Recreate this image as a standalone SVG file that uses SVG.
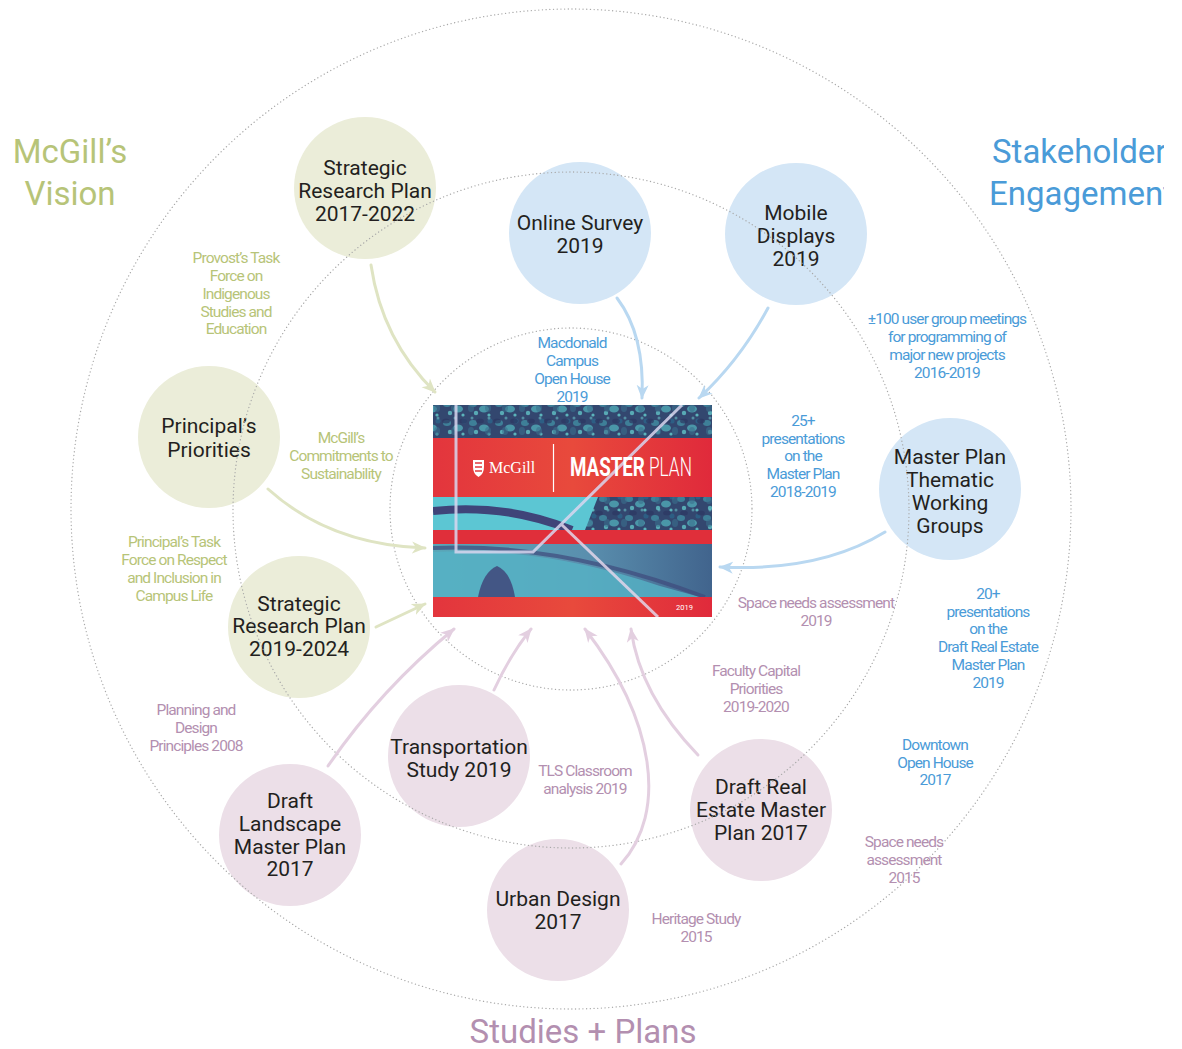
<svg xmlns="http://www.w3.org/2000/svg" width="1182" height="1049" viewBox="0 0 1182 1049">
<style>
.ring{fill:none;stroke:#a9a9a9;stroke-width:1.3;stroke-dasharray:0.1 3.6;stroke-linecap:round}
.ng circle{stroke:none}
.g circle{fill:#ebedd9}
.b circle{fill:#d4e6f6}
.p circle{fill:#ecdfe8}
.nt{font-family:Roboto,"Liberation Sans",sans-serif;font-size:21px;fill:#231f20;text-anchor:middle}
.lb{font-family:Roboto,"Liberation Sans",sans-serif;font-size:15.5px;font-weight:400;letter-spacing:-0.9px;text-anchor:middle}
.ttl{font-family:Roboto,"Liberation Sans",sans-serif;font-size:33px;font-weight:400}
.gt{fill:#b7c478}
.bt{fill:#4a9bd8}
.pt{fill:#b38fb0}
.ca{fill:none;stroke-width:3;stroke-linecap:round}
.cg{stroke:#dfe4c3;marker-end:url(#ag)}
.cb{stroke:#b9d8f1;marker-end:url(#ab)}
.cp{stroke:#e3cfe0;marker-end:url(#ap)}
.cov{font-family:Roboto,"Liberation Sans",sans-serif;fill:#ffffff}
</style>
<defs>
<marker id="ag" markerUnits="userSpaceOnUse" markerWidth="16" markerHeight="14" refX="13" refY="7" orient="auto"><path d="M0,1 L14,7 L0,13 L4,7 z" fill="#dfe4c3"/></marker>
<marker id="ab" markerUnits="userSpaceOnUse" markerWidth="16" markerHeight="14" refX="13" refY="7" orient="auto"><path d="M0,1 L14,7 L0,13 L4,7 z" fill="#b9d8f1"/></marker>
<marker id="ap" markerUnits="userSpaceOnUse" markerWidth="16" markerHeight="14" refX="13" refY="7" orient="auto"><path d="M0,1 L14,7 L0,13 L4,7 z" fill="#e3cfe0"/></marker>
<pattern id="fol" patternUnits="userSpaceOnUse" width="26" height="19">
<rect width="26" height="19" fill="#33476f"/>
<ellipse cx="5" cy="5" rx="4" ry="3" fill="#3e7f98"/>
<ellipse cx="16" cy="10" rx="5" ry="3.5" fill="#4a96a8"/>
<circle cx="8" cy="14" r="2.2" fill="#58aab5"/>
<circle cx="22" cy="3" r="2.5" fill="#2d5e84"/>
<circle cx="21" cy="16" r="1.6" fill="#5bb4bb"/>
</pattern>
<pattern id="fol2" patternUnits="userSpaceOnUse" width="17" height="23">
<ellipse cx="4" cy="7" rx="4" ry="2.5" fill="#2c3763" opacity="0.7"/>
<ellipse cx="12" cy="17" rx="3" ry="4" fill="#3a6f8e" opacity="0.6"/>
<circle cx="13" cy="4" r="1.5" fill="#69c0c6" opacity="0.6"/>
</pattern>
<linearGradient id="red" x1="0" y1="0" x2="1" y2="0">
<stop offset="0" stop-color="#e3353d"/>
<stop offset="0.5" stop-color="#e84a3c"/>
<stop offset="1" stop-color="#e02a3b"/>
</linearGradient>
<linearGradient id="low" x1="0" y1="0" x2="1" y2="0">
<stop offset="0" stop-color="#5aa7b8"/>
<stop offset="0.55" stop-color="#5a8fae"/>
<stop offset="1" stop-color="#41648d"/>
</linearGradient>
<clipPath id="cc"><rect x="433" y="405" width="279" height="212"/></clipPath>
<clipPath id="edge"><rect x="0" y="0" width="1164" height="1049"/></clipPath>
</defs>
<rect width="1182" height="1049" fill="#ffffff"/>

<g id="nodes">
<g id="n-srp2017" class="ng g"><circle cx="365" cy="188" r="71"/>
<text class="nt"><tspan x="365" y="175">Strategic</tspan><tspan x="365" y="198">Research Plan</tspan><tspan x="365" y="221">2017-2022</tspan></text></g>
<g id="n-principal" class="ng g"><circle cx="209" cy="437" r="71"/>
<text class="nt"><tspan x="209" y="433">Principal’s</tspan><tspan x="209" y="457">Priorities</tspan></text></g>
<g id="n-srp2019" class="ng g"><circle cx="299" cy="627" r="71"/>
<text class="nt"><tspan x="299" y="611">Strategic</tspan><tspan x="299" y="633">Research Plan</tspan><tspan x="299" y="656">2019-2024</tspan></text></g>
<g id="n-survey" class="ng b"><circle cx="580" cy="233" r="71"/>
<text class="nt"><tspan x="580" y="230">Online Survey</tspan><tspan x="580" y="253">2019</tspan></text></g>
<g id="n-mobile" class="ng b"><circle cx="796" cy="234" r="71"/>
<text class="nt"><tspan x="796" y="220">Mobile</tspan><tspan x="796" y="243">Displays</tspan><tspan x="796" y="266">2019</tspan></text></g>
<g id="n-working" class="ng b"><circle cx="950" cy="489" r="71"/>
<text class="nt"><tspan x="950" y="464">Master Plan</tspan><tspan x="950" y="487">Thematic</tspan><tspan x="950" y="510">Working</tspan><tspan x="950" y="533">Groups</tspan></text></g>
<g id="n-transport" class="ng p"><circle cx="459" cy="756" r="71"/>
<text class="nt"><tspan x="459" y="754">Transportation</tspan><tspan x="459" y="777">Study 2019</tspan></text></g>
<g id="n-landscape" class="ng p"><circle cx="290" cy="835" r="71"/>
<text class="nt"><tspan x="290" y="808">Draft</tspan><tspan x="290" y="831">Landscape</tspan><tspan x="290" y="854">Master Plan</tspan><tspan x="290" y="876">2017</tspan></text></g>
<g id="n-urban" class="ng p"><circle cx="558" cy="910" r="71"/>
<text class="nt"><tspan x="558" y="906">Urban Design</tspan><tspan x="558" y="929">2017</tspan></text></g>
<g id="n-realestate" class="ng p"><circle cx="761" cy="810" r="71"/>
<text class="nt"><tspan x="761" y="794">Draft Real</tspan><tspan x="761" y="817">Estate Master</tspan><tspan x="761" y="840">Plan 2017</tspan></text></g>
</g>

<g id="rings">
<circle class="ring" cx="571" cy="509" r="500"/>
<circle class="ring" cx="571" cy="510" r="338"/>
<circle class="ring" cx="571" cy="509" r="181"/>
</g>

<g id="n-masterplan">
<g clip-path="url(#cc)">
<rect x="433" y="405" width="279" height="212" fill="url(#fol)"/>
<rect x="433" y="405" width="279" height="212" fill="url(#fol2)"/>
<path d="M433,497 L598,497 L585,530 L433,530 z" fill="#5cc6d3"/>
<path d="M433,511 Q505,503 572,530" fill="none" stroke="#3f4479" stroke-width="8"/>
<path d="M433,544 L712,544 L712,597 L433,597 z" fill="url(#low)"/>
<path d="M433,552 Q540,546 660,586 L700,597 L433,597 z" fill="#55b3c6" opacity="0.8"/>
<path d="M433,548 Q560,542 705,597" fill="none" stroke="#3e4a7c" stroke-width="4" opacity="0.7"/>
<path d="M478,597 Q483,572 497,566 Q511,572 515,597 z" fill="#40477a" opacity="0.85"/>
<rect x="433" y="438" width="279" height="59" fill="url(#red)"/>
<rect x="433" y="530" width="279" height="14" fill="#e02f3a"/>
<rect x="433" y="597" width="279" height="20" fill="url(#red)"/>
<path d="M456,405 L456,552 L533,552 L682,405" fill="none" stroke="#d8d6ee" stroke-width="3" opacity="0.85"/>
<path d="M562,525 L658,617" fill="none" stroke="#e3d6ea" stroke-width="3" opacity="0.85"/>
</g>
<path d="M473,460 L484,460 L484,467 Q484,474 478.5,477 Q473,474 473,467 z" fill="#ffffff"/>
<path d="M475,463 L482,463 M475,467 L482,467 M475,471 L482,471" stroke="#e23a3f" stroke-width="1.5"/>
<text x="489" y="473" font-family="'Liberation Serif',serif" font-size="16" fill="#ffffff">McGill</text>
<line x1="553.5" y1="444" x2="553.5" y2="492" stroke="#ffffff" stroke-width="1.2"/>
<text class="cov" transform="translate(570,476) scale(0.75,1)" x="0" y="0" font-size="25" font-weight="700">MASTER</text>
<text class="cov" transform="translate(649,476) scale(0.69,1)" x="0" y="0" font-size="25" font-weight="300">PLAN</text>
<text class="cov" x="676" y="610" font-size="7.5">2019</text>
</g>

<g id="connectors">
<path class="ca cg" d="M371,265 Q382,340 435,392"/>
<path class="ca cg" d="M268,489 Q330,545 425,548"/>
<path class="ca cg" d="M376,627 L425,604"/>
<path class="ca cb" d="M617,298 Q645,335 642,398"/>
<path class="ca cb" d="M768,308 Q740,360 699,398"/>
<path class="ca cb" d="M885,532 Q820,572 720,567"/>
<path class="ca cp" d="M328,766 Q380,690 454,629"/>
<path class="ca cp" d="M494,690 Q510,655 531,629"/>
<path class="ca cp" d="M621,864 C668,812 655,720 585,629"/>
<path class="ca cp" d="M698,755 Q640,695 631,629"/>
</g>

<g id="labels">
<text class="ttl gt" text-anchor="middle"><tspan x="70" y="163">McGill’s</tspan><tspan x="70" y="205">Vision</tspan></text>
<g clip-path="url(#edge)"><text class="ttl bt"><tspan x="992" y="163">Stakeholder</tspan><tspan x="989" y="205">Engagement</tspan></text></g>
<text class="ttl pt" text-anchor="middle" x="583" y="1043">Studies + Plans</text>

<text class="lb gt"><tspan x="236" y="263">Provost’s Task</tspan><tspan x="236" y="281">Force on</tspan><tspan x="236" y="299">Indigenous</tspan><tspan x="236" y="317">Studies and</tspan><tspan x="236" y="334">Education</tspan></text>
<text class="lb gt"><tspan x="341" y="443">McGill’s</tspan><tspan x="341" y="461">Commitments to</tspan><tspan x="341" y="479">Sustainability</tspan></text>
<text class="lb gt"><tspan x="174" y="547">Principal’s Task</tspan><tspan x="174" y="565">Force on Respect</tspan><tspan x="174" y="583">and Inclusion in</tspan><tspan x="174" y="601">Campus Life</tspan></text>

<text class="lb bt"><tspan x="572" y="348">Macdonald</tspan><tspan x="572" y="366">Campus</tspan><tspan x="572" y="384">Open House</tspan><tspan x="572" y="402">2019</tspan></text>
<text class="lb bt"><tspan x="947" y="324">±100 user group meetings</tspan><tspan x="947" y="342">for programming of</tspan><tspan x="947" y="360">major new projects</tspan><tspan x="947" y="378">2016-2019</tspan></text>
<text class="lb bt"><tspan x="803" y="426">25+</tspan><tspan x="803" y="444">presentations</tspan><tspan x="803" y="461">on the</tspan><tspan x="803" y="479">Master Plan</tspan><tspan x="803" y="497">2018-2019</tspan></text>
<text class="lb bt"><tspan x="988" y="599">20+</tspan><tspan x="988" y="617">presentations</tspan><tspan x="988" y="634">on the</tspan><tspan x="988" y="652">Draft Real Estate</tspan><tspan x="988" y="670">Master Plan</tspan><tspan x="988" y="688">2019</tspan></text>
<text class="lb bt"><tspan x="935" y="750">Downtown</tspan><tspan x="935" y="768">Open House</tspan><tspan x="935" y="785">2017</tspan></text>

<text class="lb pt"><tspan x="816" y="608">Space needs assessment</tspan><tspan x="816" y="626">2019</tspan></text>
<text class="lb pt"><tspan x="756" y="676">Faculty Capital</tspan><tspan x="756" y="694">Priorities</tspan><tspan x="756" y="712">2019-2020</tspan></text>
<text class="lb pt"><tspan x="196" y="715">Planning and</tspan><tspan x="196" y="733">Design</tspan><tspan x="196" y="751">Principles 2008</tspan></text>
<text class="lb pt"><tspan x="585" y="776">TLS Classroom</tspan><tspan x="585" y="794">analysis 2019</tspan></text>
<text class="lb pt"><tspan x="696" y="924">Heritage Study</tspan><tspan x="696" y="942">2015</tspan></text>
<text class="lb pt"><tspan x="904" y="847">Space needs</tspan><tspan x="904" y="865">assessment</tspan><tspan x="904" y="883">2015</tspan></text>
</g>
</svg>
